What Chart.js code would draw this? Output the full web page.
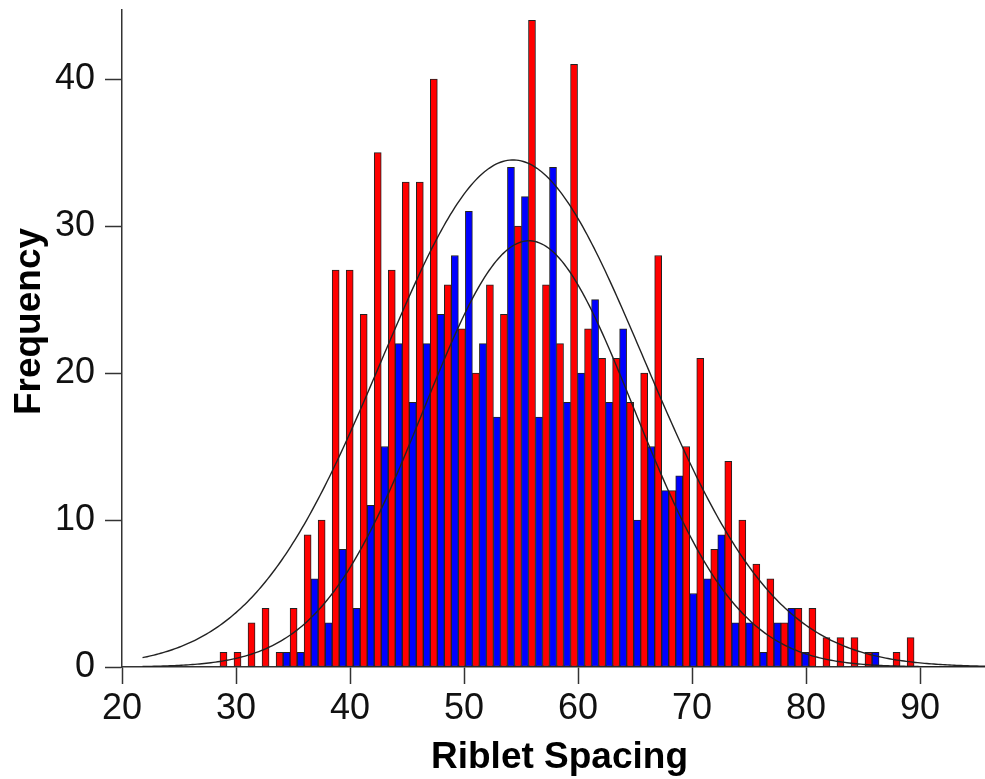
<!DOCTYPE html>
<html>
<head>
<meta charset="utf-8">
<title>Riblet Spacing</title>
<script src="https://cdn.jsdelivr.net/npm/chart.js@4.4.1/dist/chart.umd.min.js"></script>
<style>
  html, body { margin: 0; padding: 0; background: #ffffff; }
  #wrap { width: 985px; height: 779px; }
</style>
</head>
<body>
<div id="wrap"><canvas id="chart" width="985" height="779"></canvas></div>
<script>
// Histogram bin centres (riblet spacing)
const binCenters = [
  29.21, 30.44, 31.67, 32.90, 34.13, 35.36, 36.59, 37.82, 39.05, 40.28,
  41.51, 42.74, 43.97, 45.20, 46.43, 47.66, 48.89, 50.12, 51.35, 52.58,
  53.81, 55.04, 56.27, 57.50, 58.73, 59.96, 61.19, 62.42, 63.65, 64.88,
  66.11, 67.34, 68.57, 69.80, 71.03, 72.26, 73.49, 74.72, 75.95, 77.18,
  78.41, 79.64, 80.87, 82.10, 83.33, 84.56, 85.79, 87.02, 88.25, 89.48
];

// Counts per bin, red sample
const redCounts = [
  1, 1, 3, 4, 1, 4, 9, 10, 27, 27,
  24, 35, 27, 33, 33, 40, 26, 23, 20, 26,
  24, 30, 44, 26, 22, 41, 23, 21, 21, 18,
  20, 28, 12, 15, 21, 8, 14, 10, 7, 6,
  3, 4, 4, 2, 2, 2, 1, 0, 1, 2
];

// Counts per bin, blue sample
const blueCounts = [
  0, 0, 0, 0, 1, 1, 6, 3, 8, 4,
  11, 15, 22, 18, 22, 24, 28, 31, 22, 17,
  34, 32, 17, 34, 18, 20, 25, 18, 23, 10,
  15, 12, 13, 5, 6, 9, 3, 3, 1, 3,
  4, 1, 0, 0, 0, 0, 1, 0, 0, 0
];

const xTicks = [20, 30, 40, 50, 60, 70, 80, 90];
const yTicks = [0, 10, 20, 30, 40];

// Fitted normal curves (mean, standard deviation, height at the mean)
const redFit = { mean: 54.3, sd: 11.5, peak: 34.5 };
const blueFit = { mean: 55.7, sd: 9.2, peak: 29.0 };
const curveFrom = 21.8;
const curveTo = 96;
const curveStep = 0.2;

function normalCurve(fit) {
  const pts = [];
  for (let x = curveFrom; x <= curveTo + 1e-9; x += curveStep) {
    const z = (x - fit.mean) / fit.sd;
    pts.push({ x: x, y: fit.peak * Math.exp(-0.5 * z * z) });
  }
  return pts;
}

const FONT = '"Liberation Sans", Arial, Helvetica, sans-serif';
const AXIS = '#333333';

// Axis titles, drawn in the outer margins
const axisTitles = {
  id: 'axisTitles',
  afterDraw(chart) {
    const ctx = chart.ctx;
    const area = chart.chartArea;
    ctx.save();
    ctx.fillStyle = '#000000';
    ctx.font = 'bold 37px ' + FONT;
    ctx.textAlign = 'center';
    ctx.textBaseline = 'alphabetic';
    ctx.fillText('Riblet Spacing', (area.left + area.right) / 2 + 6, 768);
    ctx.translate(40, (area.top + area.bottom) / 2 - 17);
    ctx.rotate(-Math.PI / 2);
    ctx.fillText('Frequency', 0, 0);
    ctx.restore();
  }
};

const barStyle = {
  borderColor: '#222222',
  borderWidth: 1,
  borderSkipped: false,
  categoryPercentage: 1.0,
  barPercentage: 1.0,
  order: 1
};

const lineStyle = {
  type: 'line',
  borderColor: '#222222',
  borderWidth: 1.4,
  pointRadius: 0,
  fill: false,
  tension: 0,
  order: 0
};

new Chart(document.getElementById('chart'), {
  type: 'bar',
  data: {
    datasets: [
      Object.assign({
        label: 'Red',
        data: binCenters.map((x, i) => ({ x: x, y: redCounts[i] })),
        backgroundColor: '#ff0000'
      }, barStyle),
      Object.assign({
        label: 'Blue',
        data: binCenters.map((x, i) => ({ x: x, y: blueCounts[i] })),
        backgroundColor: '#0000ff'
      }, barStyle),
      Object.assign({ label: 'Red fit', data: normalCurve(redFit) }, lineStyle),
      Object.assign({ label: 'Blue fit', data: normalCurve(blueFit) }, lineStyle)
    ]
  },
  options: {
    responsive: false,
    devicePixelRatio: 1,
    animation: false,
    layout: { padding: { top: 10, right: 0, bottom: 0, left: 0 } },
    plugins: {
      legend: { display: false },
      tooltip: { enabled: false }
    },
    scales: {
      x: {
        type: 'linear',
        min: 20,
        max: 95.7,
        offset: false,
        grid: {
          offset: false,
          drawOnChartArea: false,
          drawTicks: true,
          tickLength: 17,
          tickColor: AXIS,
          tickWidth: 1.5
        },
        border: { display: true, color: AXIS, width: 1.5 },
        ticks: {
          padding: 3,
          color: '#111111',
          font: { family: FONT, size: 36 },
          maxRotation: 0,
          autoSkip: false
        },
        afterBuildTicks: s => { s.ticks = xTicks.map(v => ({ value: v })); },
        afterFit: s => { s.height = 112; s.paddingLeft = 0; s.paddingRight = 0; }
      },
      y: {
        type: 'linear',
        min: 0,
        max: 44.7,
        grid: {
          drawOnChartArea: false,
          drawTicks: true,
          tickLength: 17,
          tickColor: AXIS,
          tickWidth: 1.5
        },
        border: { display: true, color: AXIS, width: 1.5 },
        ticks: {
          padding: 10,
          color: '#111111',
          font: { family: FONT, size: 36 }
        },
        afterBuildTicks: s => { s.ticks = yTicks.map(v => ({ value: v })); },
        afterFit: s => { s.width = 122; s.paddingTop = 0; s.paddingBottom = 0; }
      }
    }
  },
  plugins: [axisTitles]
});
</script>
</body>
</html>
